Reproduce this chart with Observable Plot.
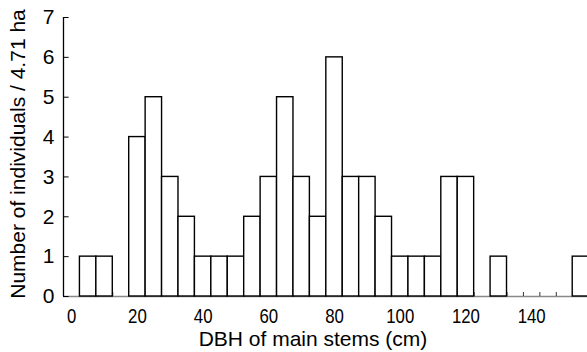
<!DOCTYPE html>
<html>
<head>
<meta charset="utf-8">
<script src="https://cdn.jsdelivr.net/npm/d3@7"></script>
<script src="https://cdn.jsdelivr.net/npm/@observablehq/plot@0.6"></script>
<style>
  html, body { margin: 0; padding: 0; background: #fff; }
  #chart svg { display: block; }
</style>
</head>
<body>
<div id="chart"></div>
<script>
// Bin centers (cm), bin width 5 cm
const binCenters = [0, 5, 10, 15, 20, 25, 30, 35, 40, 45, 50, 55, 60, 65, 70, 75, 80, 85, 90, 95, 100, 105, 110, 115, 120, 125, 130, 135, 140, 145, 150, 155];
const counts =     [0, 1, 1, 0, 4, 5, 3, 2, 1, 1, 1, 2, 3, 5, 3, 2, 6, 3, 3, 2, 1, 1, 1, 3, 3, 0, 1, 0, 0, 0, 0, 1];
const binWidth = 5;
const xTickLabels = [0, 20, 40, 60, 80, 100, 120, 140];
const yTickLabels = [0, 1, 2, 3, 4, 5, 6, 7];
const xTitle = "DBH of main stems (cm)";
const yTitle = "Number of individuals / 4.71 ha";

const bars = binCenters.map((c, i) => ({x1: c - binWidth / 2, x2: c + binWidth / 2, n: counts[i]})).filter(d => d.n > 0);
const edges = binCenters.map(c => c - binWidth / 2).filter(e => e > -binWidth / 2);
const xMin = binCenters[0] - binWidth / 2;

const font = "Liberation Sans, Arial, Helvetica, sans-serif";

const chart = Plot.plot({
  width: 587,
  height: 352,
  marginTop: 17,
  marginBottom: 56,
  marginLeft: 63,
  marginRight: 0,
  style: {fontFamily: font, fontSize: "21px", color: "#000", background: "#fff"},
  x: {domain: [xMin, 157]},
  y: {domain: [0, 7]},
  marks: [
    // x baseline (grey)
    Plot.ruleY([0], {stroke: "#888", strokeWidth: 1.5}),
    // inward x ticks at bin edges
    Plot.ruleX(edges, {x: d => d, y1: 0, y2: 0.1, stroke: "#333", strokeWidth: 1}),
    // bars
    Plot.rectY(bars, {x1: "x1", x2: "x2", y: "n", fill: "white", stroke: "black", strokeWidth: 1.4}),
    // y axis line
    Plot.ruleX([xMin], {stroke: "black", strokeWidth: 1.3}),
    // inward y ticks
    Plot.ruleY(yTickLabels, {y: d => d, x1: xMin, x2: xMin + 1.7, stroke: "black", strokeWidth: 1}),
    Plot.axisY({ticks: yTickLabels, tickSize: 0, tickPadding: 9, tickFormat: d => String(d), fontSize: 21, label: null}),
    Plot.axisX({ticks: xTickLabels, tickSize: 0, tickPadding: 12, tickFormat: d => String(d), fontSize: 21, label: null}),
    Plot.text([xTitle], {frameAnchor: "bottom", dy: 35, dx: -12.5, fontSize: 21, lineAnchor: "top"}),
    Plot.text([yTitle], {frameAnchor: "left", dx: -45.5, dy: -3, rotate: -90, textAnchor: "middle", lineAnchor: "middle", fontSize: 21})
  ]
});
document.getElementById("chart").appendChild(chart);
// condense x tick labels horizontally, as in the reference
const xTickSet = new Set(xTickLabels.map(String));
chart.querySelectorAll('text').forEach(t => {
  const parentLabel = (t.parentNode.getAttribute("aria-label") || "");
  if (parentLabel.startsWith("x-axis") && xTickSet.has(t.textContent.trim())) {
    const len = t.getComputedTextLength();
    if (len > 0) {
      t.setAttribute("textLength", (len * 0.8).toFixed(1));
      t.setAttribute("lengthAdjust", "spacingAndGlyphs");
    }
  }
});
</script>
</body>
</html>
